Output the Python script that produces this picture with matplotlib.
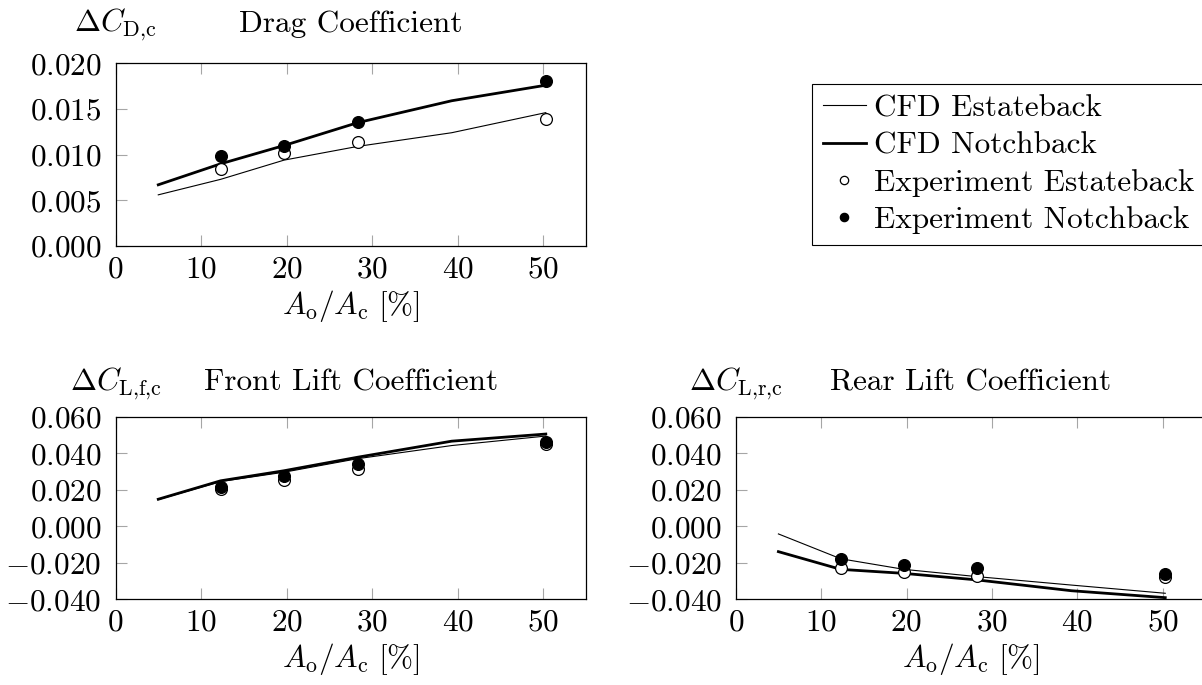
import matplotlib
matplotlib.use("Agg")
import matplotlib.pyplot as plt
from matplotlib.lines import Line2D
from matplotlib.ticker import FuncFormatter, MultipleLocator
import matplotlib.transforms as mtransforms

plt.rcParams['font.family'] = 'serif'
plt.rcParams['font.serif'] = ['cmr10']
plt.rcParams['mathtext.fontset'] = 'cm'
plt.rcParams['axes.formatter.use_mathtext'] = True
plt.rcParams['font.size'] = 22.5

# opening ratio A_o/A_c [%]
x_cfd = [5, 12.3, 19.7, 28.3, 39.3, 50.3]
x_exp = [12.3, 19.7, 28.3, 50.3]

drag_cfd_est = [0.0056, 0.0073, 0.0094, 0.0109, 0.0124, 0.0146]
drag_cfd_notch = [0.0067, 0.0090, 0.0110, 0.0135, 0.0159, 0.0176]
drag_exp_est = [0.0084, 0.0102, 0.0114, 0.0139]
drag_exp_notch = [0.0098, 0.0110, 0.0136, 0.0181]

front_cfd_est = [0.0146, 0.0245, 0.0296, 0.0370, 0.0442, 0.0494]
front_cfd_notch = [0.0148, 0.0249, 0.0304, 0.0378, 0.0466, 0.0505]
front_exp_est = [0.0205, 0.0253, 0.0314, 0.0450]
front_exp_notch = [0.0213, 0.0275, 0.0341, 0.0463]

rear_cfd_est = [-0.0042, -0.0178, -0.0236, -0.0276, -0.0322, -0.0367]
rear_cfd_notch = [-0.0139, -0.0236, -0.0258, -0.0294, -0.0353, -0.0391]
rear_exp_est = [-0.0230, -0.0252, -0.0271, -0.0276]
rear_exp_notch = [-0.0181, -0.0212, -0.0230, -0.0261]

W, H = 1202, 685
fig = plt.figure(figsize=(W / 100, H / 100), dpi=100)


def px_axes(x0, y0, x1, y1):
    return fig.add_axes([x0 / W, 1 - y1 / H, (x1 - x0) / W, (y1 - y0) / H])


ax_d = px_axes(115.5, 63.3, 586, 246)
ax_f = px_axes(115.5, 416.7, 586, 599.3)
ax_r = px_axes(735.7, 416.7, 1205.4, 599.3)

panels = [
    (ax_d, drag_cfd_est, drag_cfd_notch, drag_exp_est, drag_exp_notch,
     (0, 0.020), 0.005, r'$\Delta C_{\mathrm{D{,}c}}$', 'Drag Coefficient', 22.7),
    (ax_f, front_cfd_est, front_cfd_notch, front_exp_est, front_exp_notch,
     (-0.040, 0.060), 0.020, r'$\Delta C_{\mathrm{L{,}f{,}c}}$', 'Front Lift Coefficient', 19.2),
    (ax_r, rear_cfd_est, rear_cfd_notch, rear_exp_est, rear_exp_notch,
     (-0.040, 0.060), 0.020, r'$\Delta C_{\mathrm{L{,}r{,}c}}$', 'Rear Lift Coefficient', 19.2),
]

for ax, ce, cn, ee, en, ylim, ystep, ylab, title, tpad in panels:
    ax.plot(x_cfd, ce, color='black', lw=0.8, zorder=2)
    ax.plot(x_cfd, cn, color='black', lw=2.0, zorder=2)
    ax.plot(x_exp, ee, ls='none', marker='o', ms=8.5, mfc='white', mec='black', mew=0.9, zorder=3)
    ax.plot(x_exp, en, ls='none', marker='o', ms=8.5, mfc='black', mec='black', mew=0.9, zorder=4)
    ax.set_xlim(0, 55)
    ax.set_ylim(*ylim)
    ax.xaxis.set_major_locator(MultipleLocator(10))
    ax.yaxis.set_major_locator(MultipleLocator(ystep))
    ax.yaxis.set_major_formatter(FuncFormatter(lambda v, p: f'${v:.3f}$'))
    ax.xaxis.set_major_formatter(FuncFormatter(lambda v, p: f'${v:.0f}$'))
    ax.tick_params(axis='x', direction='in', top=True, bottom=True, length=8,
                   width=0.8, color='0.65', pad=7)
    ax.tick_params(axis='y', direction='in', left=True, right=False, length=8,
                   width=0.8, color='0.65', pad=10)
    for s in ax.spines.values():
        s.set_linewidth(0.9)
        s.set_color('black')
    ax.set_xlabel(r'$A_{\mathrm{o}}/A_{\mathrm{c}}\ [\%]$', labelpad=3)
    ax.set_title(title, pad=tpad, fontsize=22.5)
    off = mtransforms.offset_copy(ax.transAxes, fig=fig, x=0, y=tpad, units='points')
    ax.text(0, 1, ylab, transform=off, ha='center', va='baseline', fontsize=22.5)

handles = [
    Line2D([], [], color='black', lw=0.8),
    Line2D([], [], color='black', lw=2.0),
    Line2D([], [], ls='none', marker='o', ms=6, mfc='white', mec='black', mew=0.9),
    Line2D([], [], ls='none', marker='o', ms=6, mfc='black', mec='black', mew=0.9),
]
labels = ['CFD Estateback', 'CFD Notchback', 'Experiment Estateback', 'Experiment Notchback']
leg = fig.legend(handles, labels, loc='lower left',
                 bbox_to_anchor=(811.7 / W, 1 - 245.3 / H), bbox_transform=fig.transFigure,
                 borderaxespad=0, fancybox=False, framealpha=1, edgecolor='black',
                 borderpad=0.35, handlelength=1.39, handletextpad=0.26,
                 labelspacing=0.3, fontsize=22.5, numpoints=1)
leg.get_frame().set_linewidth(0.8)

fig.savefig('out.png', dpi=100)
